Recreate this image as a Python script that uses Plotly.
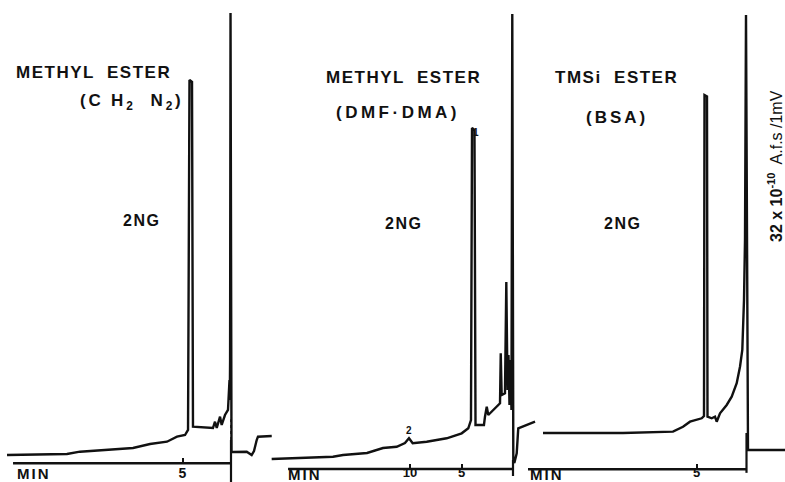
import plotly.graph_objects as go

# ---- Chromatogram 1: METHYL ESTER (CH2N2); retention time (min) vs response (% full scale)
p1_time = [23.09, 16.91, 15.57, 12.47, 10.10, 8.35, 6.60, 5.57, 4.74, 4.43, 4.28, 4.02, 3.92,
           1.86, 1.65, 1.47, 1.13, 0.96, 0.62, 0.31, 0.21, 0.155, 0.124, 0.093, 0.05,
           -0.05, -0.21, -1.62, -2.13, -2.37, -2.65, -2.78, -4.20]
p1_resp = [5.60, 5.81, 6.29, 6.64, 7.05, 7.88, 8.36, 9.40, 9.75, 10.79, 83.40, 83.00, 11.47,
           11.20, 12.51, 11.20, 13.55, 11.83, 13.90, 14.94, 18.05, 21.16, 17.01, 25.31, 97.30,
           6.22, 6.22, 6.29, 5.60, 6.43, 8.71, 9.40, 9.54]

# ---- Chromatogram 2: METHYL ESTER (DMF-DMA)
p2_time = [23.43, 21.36, 19.71, 17.48, 16.50, 14.17, 12.62, 11.29, 10.49, 10.10, 9.74, 8.38,
           6.44, 4.98, 4.34, 4.08, 3.98, 3.74, 3.64, 2.82, 2.72, 2.55, 2.40, 1.26, 1.19, 1.10,
           0.78, 0.65, 0.53, 0.44, 0.34, 0.24, 0.15, 0.07, -0.03, -0.13, -0.36, -0.51, -2.14]
p2_resp = [4.77, 4.98, 5.04, 5.25, 5.60, 6.02, 7.05, 7.32, 8.09, 9.07, 8.03, 8.36,
           9.07, 10.10, 11.14, 12.86, 73.44, 73.00, 11.83, 11.83, 13.55, 15.62, 13.90, 16.33, 26.70, 18.05,
           18.40, 41.49, 19.09, 26.35, 15.98, 25.31, 14.94, 97.10, 4.56, 3.94, 5.95, 11.14, 12.51]

# ---- Chromatogram 3: TMSi ESTER (BSA)
p3_time = [20.35, 12.35, 7.35, 6.35, 5.65, 4.48, 4.25, 4.20, 3.95, 3.90, 3.48, 3.15, 2.98, 2.65,
           1.98, 1.48, 0.98, 0.65, 0.42, 0.32, 0.25, 0.15, 0.05, -0.15, -3.85]
p3_resp = [10.17, 10.17, 10.44, 11.47, 12.51, 13.22, 13.69, 80.29, 80.00, 13.55, 13.22, 13.55, 12.51, 14.25,
           15.98, 17.70, 20.48, 23.92, 27.39, 32.93, 37.76, 50.21, 96.89, 6.64, 6.64]

# time-axis tick values per chromatogram and where each recorder time line starts
p1_ticks = [5]
p2_ticks = [10, 5]
p3_ticks = [5]
axis_start = [22.47, 21.84, 21.85]
injection_time = 0

INK = "#111111"
FONT = "Liberation Sans"

fig = go.Figure()
for t, r, xa in [(p1_time, p1_resp, "x"), (p2_time, p2_resp, "x2"), (p3_time, p3_resp, "x3")]:
    fig.add_trace(go.Scatter(x=t, y=r, xaxis=xa, yaxis="y", mode="lines",
                             line=dict(color=INK, width=2.4), showlegend=False, hoverinfo="skip"))

axis_level = [3.88, 2.70, 2.63]

def xax(rng, ticks, lvl, overlay=None, standoff=None, size=14):
    d = dict(range=rng, anchor="free", position=lvl / 100, tickmode="array", tickvals=ticks,
             ticktext=[str(v) for v in ticks], ticks="inside", ticklen=5, tickwidth=2, tickcolor=INK,
             showline=False, showgrid=False, zeroline=False, automargin=False, fixedrange=True,
             tickfont=dict(family=FONT, size=size, color=INK, weight="bold"))
    if overlay:
        d["overlaying"] = overlay
    if standoff is not None:
        d["ticklabelstandoff"] = standoff
    return d

shapes = []
for i, xr in enumerate(["x", "x2", "x3"]):
    shapes.append(dict(type="line", xref=xr, yref="y", x0=axis_start[i], x1=injection_time,
                       y0=axis_level[i], y1=axis_level[i], line=dict(color=INK, width=2.4)))
# injection marks
for xr, y0, y1 in [("x", 0, 8.71), ("x2", 1.24, 4.56), ("x3", 1.9, 10.17)]:
    shapes.append(dict(type="line", xref=xr, yref="y", x0=injection_time, x1=injection_time,
                       y0=y0, y1=y1, line=dict(color=INK, width=2.2)))
shapes.append(dict(type="line", xref="x", yref="y", x0=injection_time, x1=injection_time,
                   y0=8.71, y1=13.0, line=dict(color=INK, width=1.5, dash="dot")))

def lbl(text, x, y, size=17, ls=2, angle=0, bold=True):
    return dict(text=f'<span style="letter-spacing:{ls}px">{text}</span>', x=x, y=y,
                xref="paper", yref="paper", showarrow=False, xanchor="center", yanchor="middle",
                textangle=angle,
                font=dict(family=FONT, size=size, color=INK, weight="bold" if bold else "normal"))

W, H = 785, 482
def P(px, py):
    return px / W, 1 - py / H

annotations = []
for text, px, py, size, ls in [
    ("METHYL  ESTER", 93.5, 72, 17, 1.5),
    ("(C H<sub>2</sub>  N<sub>2</sub>)", 131.5, 102, 17, 2.8),
    ("2NG", 141.5, 221, 16, 1.5),
    ("METHYL  ESTER", 403, 77, 17, 1.5),
    ("(DMF·DMA)", 397.5, 112, 17, 3.5),
    ("2NG", 403.5, 223, 16, 1.5),
    ("TMSi  ESTER", 616.5, 77, 17, 1.5),
    ("(BSA)", 616.5, 117, 17, 3),
    ("2NG", 622.5, 223, 16, 1.5),
    ("1", 475.5, 132, 10, 0),
    ("2", 409, 430, 10, 0),
    ("MIN", 33.5, 473, 15, 2),
    ("MIN", 305, 474, 15, 2),
    ("MIN", 546.5, 474, 15, 2),
]:
    x, y = P(px, py)
    annotations.append(lbl(text, x, y, size, ls))

x, y = P(775, 166)
annotations.append(dict(text="<b>32 x 10<sup>-10</sup></b>  A.f.s /1mV", x=x, y=y, xref="paper", yref="paper",
                        showarrow=False, textangle=-90, xanchor="center", yanchor="middle",
                        font=dict(family=FONT, size=16, color=INK)))

fig.update_layout(
    width=W, height=H, margin=dict(l=0, r=0, t=0, b=0, autoexpand=False), autosize=False,
    paper_bgcolor="white", plot_bgcolor="white",
    xaxis=xax([231 / 9.7, (231 - 785) / 9.7], p1_ticks, axis_level[0], standoff=0),
    xaxis2=xax([513 / 10.3, (513 - 785) / 10.3], p2_ticks, axis_level[1], overlay="x", standoff=-6, size=13),
    xaxis3=xax([74.65, -3.85], p3_ticks, axis_level[2], overlay="x", standoff=-6, size=13),
    yaxis=dict(range=[0, 100], domain=[0, 1], visible=False, fixedrange=True, automargin=False),
    shapes=shapes, annotations=annotations, showlegend=False,
)

fig.write_html("out.html")
